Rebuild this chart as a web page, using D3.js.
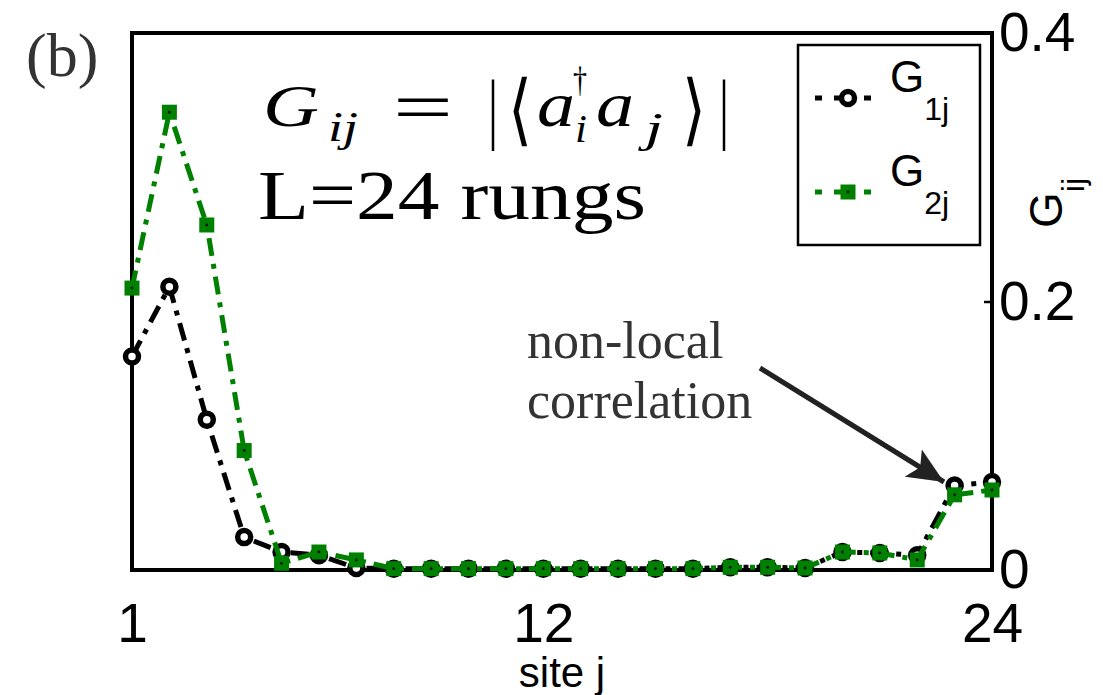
<!DOCTYPE html>
<html>
<head>
<meta charset="utf-8">
<script src="https://cdn.jsdelivr.net/npm/d3@7"></script>
<style>
  body { margin: 0; background: #fff; }
  svg { display: block; }
</style>
</head>
<body>
<svg id="chart" width="1103" height="695"></svg>
<script>
// site index along the ladder
var sites = [1, 2, 3, 4, 5, 6, 7, 8, 9, 10, 11, 12, 13, 14, 15, 16, 17, 18, 19, 20, 21, 22, 23, 24];
// G_1j and G_2j
var g1Values = [0.159, 0.211, 0.112, 0.0245, 0.0134, 0.011, 0.0015, 0.001, 0.001, 0.001, 0.001, 0.001,
                0.001, 0.001, 0.001, 0.001, 0.002, 0.002, 0.0015, 0.0134, 0.0127, 0.011, 0.063, 0.0655];
var g2Values = [0.21, 0.341, 0.257, 0.089, 0.005, 0.0134, 0.0075, 0.001, 0.001, 0.001, 0.001, 0.001,
                0.001, 0.001, 0.001, 0.001, 0.002, 0.002, 0.0015, 0.0134, 0.0127, 0.0075, 0.056, 0.0596];
var xTicks = [1, 12, 24];
var yTicks = [0, 0.2, 0.4];

(function () {
  var svg = d3.select("#chart");
  // plot box
  var pLeft = 132, pRight = 992, pTop = 33, pBottom = 570;

  var x = d3.scaleLinear().domain([1, 24]).range([pLeft, pRight]);
  var y = d3.scaleLinear().domain([0, 0.4]).range([pBottom, pTop]);

  var sans = "'Liberation Sans', Arial, Helvetica, sans-serif";
  var serif = "'Liberation Serif', 'Times New Roman', serif";
  var dash = "18,8,5,8";

  // axes (ticks inward, matlab style)
  var xAxis = svg.append("g")
    .attr("transform", "translate(0," + pBottom + ")")
    .call(d3.axisBottom(x).tickValues(xTicks).tickSize(-8).tickPadding(33).tickFormat(d3.format("d")));
  var yAxis = svg.append("g")
    .attr("transform", "translate(" + pRight + ",0)")
    .call(d3.axisRight(y).tickValues(yTicks).tickSize(-8).tickPadding(7)
      .tickFormat(function (d) { return d === 0 ? "0" : d3.format(".1f")(d); }));

  [xAxis, yAxis].forEach(function (a) {
    a.select(".domain").remove();
    a.selectAll(".tick line").attr("stroke", "#000").attr("stroke-width", 2.5);
    a.selectAll(".tick text").attr("font-family", sans).attr("font-size", 55).attr("fill", "#000");
  });

  // plot frame
  svg.append("rect")
    .attr("x", pLeft).attr("y", pTop)
    .attr("width", pRight - pLeft).attr("height", pBottom - pTop)
    .attr("fill", "none").attr("stroke", "#000").attr("stroke-width", 4);

  // series
  var series = [
    { name: "1j", values: g1Values, color: "#000000", marker: "circle" },
    { name: "2j", values: g2Values, color: "#008000", marker: "square" }
  ];

  var line = d3.line()
    .x(function (d) { return x(d[0]); })
    .y(function (d) { return y(d[1]); });

  function drawMarker(sel, s) {
    if (s.marker === "circle") {
      sel.append("circle").attr("r", 6.5)
        .attr("fill", "#fff").attr("stroke", s.color).attr("stroke-width", 5.5);
    } else {
      sel.append("rect").attr("x", -7.5).attr("y", -7.5).attr("width", 15).attr("height", 15)
        .attr("fill", s.color);
      sel.append("circle").attr("r", 1.4).attr("fill", "#111");
    }
  }

  series.forEach(function (s) {
    var pts = sites.map(function (d, i) { return [d, s.values[i]]; });
    svg.append("path")
      .datum(pts)
      .attr("d", line)
      .attr("fill", "none")
      .attr("stroke", s.color)
      .attr("stroke-width", 5)
      .attr("stroke-dasharray", dash);
    svg.append("g").selectAll("g")
      .data(pts)
      .enter().append("g")
      .attr("transform", function (d) { return "translate(" + x(d[0]) + "," + y(d[1]) + ")"; })
      .each(function () { drawMarker(d3.select(this), s); });
  });

  // legend
  var legend = svg.append("g");
  legend.append("rect")
    .attr("x", 798).attr("y", 45).attr("width", 182).attr("height", 200)
    .attr("fill", "#fff").attr("stroke", "#000").attr("stroke-width", 2.5);
  series.forEach(function (s, i) {
    var ly = 98 + i * 94;
    legend.append("path")
      .attr("d", "M815," + ly + "H883")
      .attr("stroke", s.color).attr("stroke-width", 5)
      .attr("stroke-dasharray", "7,12,18,12");
    drawMarker(legend.append("g").attr("transform", "translate(848," + ly + ")"), s);
    var t = legend.append("text")
      .attr("x", 890).attr("y", ly - 6)
      .attr("font-family", sans).attr("font-size", 44).attr("fill", "#000");
    t.append("tspan").text("G");
    t.append("tspan").attr("dy", 28).attr("font-size", 32).text(s.name);
  });

  // right axis label G_ij
  var ylab = svg.append("text")
    .attr("transform", "translate(1062,228) rotate(-90)")
    .attr("font-family", sans).attr("font-size", 46).attr("fill", "#000");
  ylab.append("tspan").text("G");
  ylab.append("tspan").attr("dy", 22).attr("font-size", 32).text("ij");

  // x axis label
  svg.append("text")
    .attr("x", 562).attr("y", 687)
    .attr("text-anchor", "middle")
    .attr("font-family", sans).attr("font-size", 42).attr("fill", "#000")
    .text("site j");

  // panel label
  svg.append("text")
    .attr("x", 26).attr("y", 76)
    .attr("font-family", serif).attr("font-size", 62).attr("fill", "#333")
    .text("(b)");

  // formula G_ij = |<a_i^dagger a_j>|
  var formula = [
    { t: "G",  x: 263, y: 126, size: 60, it: true,  len: 56 },
    { t: "ij", x: 328, y: 141, size: 42, it: true,  len: 30 },
    { t: "=",  x: 393, y: 131, size: 70, it: false, len: 60 },
    { t: "|",  x: 488, y: 134, size: 78, it: false, len: 10 },
    { t: "\u27E8", x: 508, y: 136, size: 78, it: false, len: 24, f: "'DejaVu Serif', serif" },
    { t: "a",  x: 537, y: 126, size: 64, it: true,  len: 38 },
    { t: "\u2020", x: 573, y: 92, size: 36, it: false, len: 14 },
    { t: "i",  x: 575, y: 142, size: 40, it: true,  len: 12 },
    { t: "a",  x: 596, y: 126, size: 64, it: true,  len: 38 },
    { t: "j",  x: 645, y: 142, size: 42, it: true,  len: 18 },
    { t: "\u27E9", x: 682, y: 136, size: 78, it: false, len: 24, f: "'DejaVu Serif', serif" },
    { t: "|",  x: 719, y: 134, size: 78, it: false, len: 10 }
  ];
  svg.append("g").selectAll("text")
    .data(formula)
    .enter().append("text")
    .attr("x", function (d) { return d.x; })
    .attr("y", function (d) { return d.y; })
    .attr("font-family", function (d) { return d.f || serif; })
    .attr("font-style", function (d) { return d.it ? "italic" : "normal"; })
    .attr("font-size", function (d) { return d.size; })
    .attr("textLength", function (d) { return d.len; })
    .attr("lengthAdjust", "spacingAndGlyphs")
    .attr("fill", "#000")
    .text(function (d) { return d.t; });

  svg.append("text")
    .attr("x", 258).attr("y", 219)
    .attr("font-family", serif).attr("font-size", 70).attr("fill", "#000")
    .attr("textLength", 388).attr("lengthAdjust", "spacingAndGlyphs")
    .text("L=24 rungs");

  // annotation
  var note = svg.append("text")
    .attr("font-family", serif).attr("font-size", 52).attr("fill", "#333");
  note.append("tspan").attr("x", 527).attr("y", 358).text("non-local");
  note.append("tspan").attr("x", 527).attr("y", 418).text("correlation");

  svg.append("defs").append("marker")
    .attr("id", "head")
    .attr("markerUnits", "userSpaceOnUse")
    .attr("viewBox", "0 0 36 32")
    .attr("refX", 36).attr("refY", 16)
    .attr("markerWidth", 36).attr("markerHeight", 32)
    .attr("orient", "auto")
    .append("path")
    .attr("d", "M0,0L36,16L0,32L8,16Z")
    .attr("fill", "#222");

  svg.append("line")
    .attr("x1", 760).attr("y1", 368)
    .attr("x2", 944).attr("y2", 482)
    .attr("stroke", "#222").attr("stroke-width", 5)
    .attr("marker-end", "url(#head)");
})();
</script>
</body>
</html>
